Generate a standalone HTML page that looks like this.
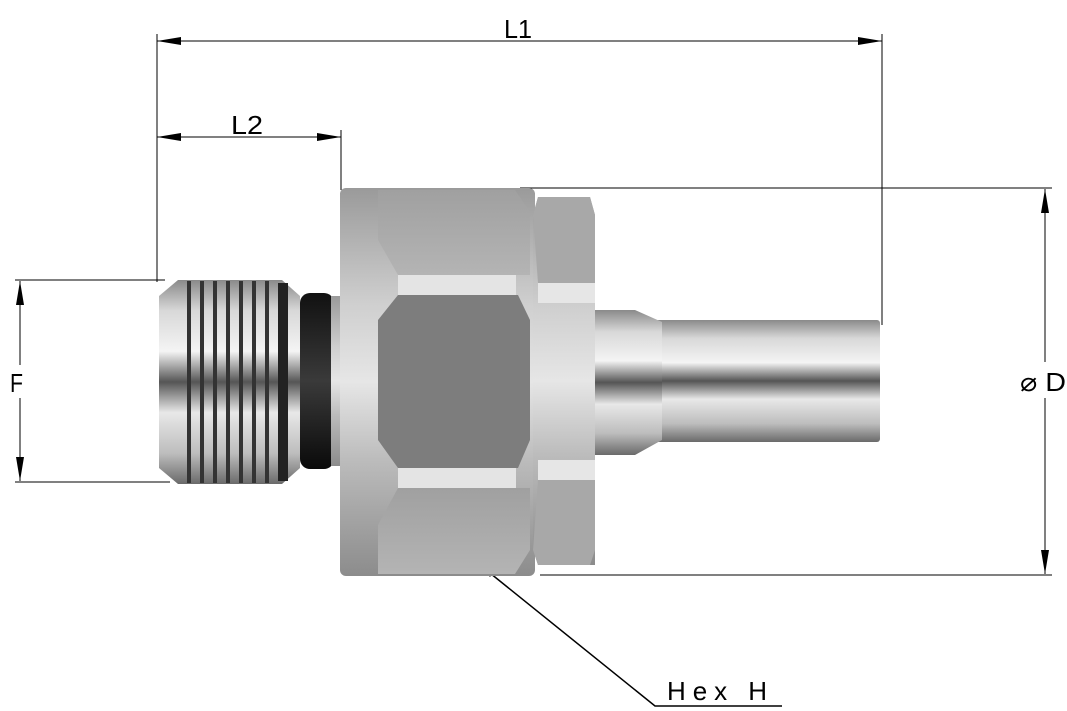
<!DOCTYPE html>
<html><head><style>body{margin:0;background:#fff}svg{display:block}</style></head><body>
<svg width="1067" height="711" viewBox="0 0 1067 711" xmlns="http://www.w3.org/2000/svg" font-family="Liberation Sans, sans-serif">
<defs>
<linearGradient id="cyl" x1="0" y1="0" x2="0" y2="1">
<stop offset="0" stop-color="#8a8a8a"/><stop offset="0.15" stop-color="#d8d8d8"/><stop offset="0.35" stop-color="#f4f4f4"/><stop offset="0.5" stop-color="#555"/><stop offset="0.65" stop-color="#e8e8e8"/><stop offset="0.85" stop-color="#bdbdbd"/><stop offset="1" stop-color="#6a6a6a"/></linearGradient>
<linearGradient id="side" x1="0" y1="0" x2="0" y2="1">
<stop offset="0" stop-color="#9a9a9a"/><stop offset="0.3" stop-color="#cfcfcf"/><stop offset="0.5" stop-color="#e6e6e6"/><stop offset="0.7" stop-color="#bcbcbc"/><stop offset="1" stop-color="#8c8c8c"/></linearGradient>
<linearGradient id="ring" x1="0" y1="0" x2="0" y2="1">
<stop offset="0" stop-color="#111"/><stop offset="0.5" stop-color="#3a3a3a"/><stop offset="1" stop-color="#0a0a0a"/></linearGradient>
<linearGradient id="face" x1="0" y1="0" x2="0" y2="1">
<stop offset="0" stop-color="#a0a0a0"/><stop offset="1" stop-color="#b4b4b4"/></linearGradient>
</defs>
<g stroke="#000" stroke-width="1" fill="none">
<line x1="157" y1="34" x2="157" y2="282"/><line x1="882" y1="34" x2="882" y2="325"/>
<line x1="157" y1="41" x2="882" y2="41"/>
<line x1="157" y1="137" x2="341" y2="137"/><line x1="341" y1="130" x2="341" y2="190"/>
<line x1="15" y1="280" x2="165" y2="280"/><line x1="15" y1="482" x2="170" y2="482"/>
<line x1="20" y1="281" x2="20" y2="365"/><line x1="20" y1="398" x2="20" y2="481"/>
<line x1="520" y1="188" x2="1052" y2="188"/><line x1="540" y1="575" x2="1052" y2="575"/>
<line x1="1045" y1="189" x2="1045" y2="362"/><line x1="1045" y1="398" x2="1045" y2="574"/>
<polyline points="480,565 655,706 782,706" stroke-width="1.5"/>
</g>
<g fill="#000">
<polygon points="157,41 181,37 181,45"/><polygon points="882,41 858,37 858,45"/>
<polygon points="157,137 181,133 181,141"/><polygon points="341,137 317,133 317,141"/>
<polygon points="20,281 16,305 24,305"/><polygon points="20,481 16,457 24,457"/>
<polygon points="1045,189 1041,213 1049,213"/><polygon points="1045,574 1041,550 1049,550"/>
<polygon points="480,565 490,577 495,570"/>
</g>
<g font-size="26" fill="#000">
<text x="504" y="38" textLength="28" lengthAdjust="spacingAndGlyphs">L1</text>
<text x="231" y="134" textLength="32" lengthAdjust="spacingAndGlyphs">L2</text>
<text x="10" y="392" textLength="13" lengthAdjust="spacingAndGlyphs">F</text>
<text x="1020" y="391" textLength="46" lengthAdjust="spacingAndGlyphs">⌀ D</text>
<text x="667" y="700" textLength="100" lengthAdjust="spacing">Hex  H</text>
</g>
<!-- tube -->
<rect x="655" y="320" width="225" height="122" fill="url(#cyl)" rx="3"/>
<path d="M594 310 L635 310 L662 322 L662 440 L635 455 L594 455 Z" fill="url(#cyl)"/>
<!-- thread -->
<path d="M178 280 L282 280 L300 296 L300 468 L282 484 L178 484 L159 468 L159 296 Z" fill="url(#cyl)"/>
<g fill="#333">
<rect x="187" y="281" width="4" height="202"/><rect x="200" y="281" width="4" height="202"/><rect x="213" y="281" width="4" height="202"/><rect x="226" y="281" width="4" height="202"/><rect x="239" y="281" width="4" height="202"/><rect x="252" y="281" width="4" height="202"/><rect x="265" y="281" width="4" height="202"/><rect x="278" y="283" width="10" height="198" fill="#222"/>
</g>
<rect x="300" y="293" width="34" height="176" rx="10" fill="url(#ring)"/>
<rect x="331" y="296" width="10" height="170" fill="url(#side)"/>
<!-- body -->
<rect x="340" y="188" width="195" height="388" rx="6" fill="url(#side)"/>
<polygon points="378,190 515,190 530,212 530,275 398,275 378,240" fill="url(#face)"/>
<rect x="398" y="275" width="118" height="20" fill="#e4e4e4"/>
<polygon points="398,295 518,295 530,320 530,440 518,468 398,468 378,440 378,320" fill="#7d7d7d"/>
<rect x="398" y="468" width="118" height="20" fill="#e4e4e4"/>
<polygon points="398,488 530,488 530,550 515,574 378,574 378,525" fill="url(#face)"/>
<!-- nut -->
<polygon points="538,197 590,197 595,215 595,565 538,565 533,550 533,215" fill="url(#side)"/>
<polygon points="538,197 590,197 595,215 595,283 538,283 533,215" fill="#a8a8a8"/>
<rect x="538" y="283" width="57" height="20" fill="#e6e6e6"/>
<rect x="538" y="460" width="57" height="20" fill="#e6e6e6"/>
<polygon points="538,480 595,480 595,550 590,565 538,565 533,550" fill="#a8a8a8"/>
</svg>
</body></html>
